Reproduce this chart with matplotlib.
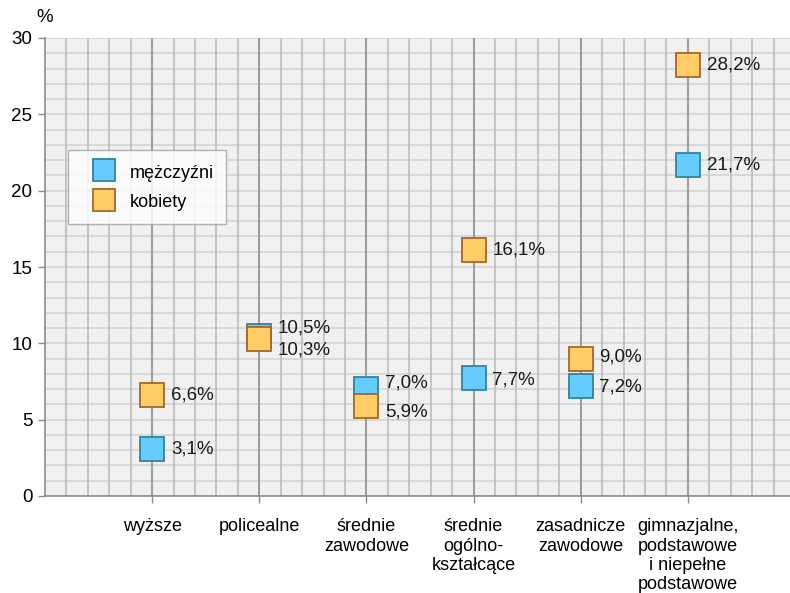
import matplotlib
matplotlib.use("Agg")
import matplotlib.pyplot as plt
import numpy as np

plt.rcParams['font.family'] = ['Liberation Sans', 'DejaVu Sans']

categories = ["wyższe", "policealne", "średnie\nzawodowe", "średnie\nogólno-\nkształcące",
              "zasadnicze\nzawodowe", "gimnazjalne,\npodstawowe\ni niepełne\npodstawowe"]
men = [3.1, 10.5, 7.0, 7.7, 7.2, 21.7]
women = [6.6, 10.3, 5.9, 16.1, 9.0, 28.2]
men_labels = ["3,1%", "10,5%", "7,0%", "7,7%", "7,2%", "21,7%"]
women_labels = ["6,6%", "10,3%", "5,9%", "16,1%", "9,0%", "28,2%"]

fig = plt.figure(figsize=(7.9, 5.93), dpi=100)
ax = fig.add_axes([45/790, 1-496/593, 750/790, 458/593])
ax.set_facecolor('#F0F0F0')
ax.set_xlim(0, 7)
ax.set_ylim(0, 30)

# grid
for y in range(1, 31):
    ax.axhline(y, color='#D4D4D4', lw=1.2, zorder=1)
for k in range(1, 35):
    x = k * 0.2
    if k % 5 == 0:
        ax.axvline(x, color='#8C8C8C', lw=1.2, zorder=1.5)
    else:
        ax.axvline(x, color='#BDBDBD', lw=1.2, zorder=1.2)

xs = np.arange(1, len(categories) + 1)
ax.plot(xs, men, linestyle='none', marker='s', markersize=17, markerfacecolor='#66CCFF',
        markeredgecolor='#31849B', markeredgewidth=1.3, zorder=3, label='mężczyźni')
ax.plot(xs, women, linestyle='none', marker='s', markersize=17, markerfacecolor='#FFCC66',
        markeredgecolor='#A5672A', markeredgewidth=1.3, zorder=4, label='kobiety')

men_dy = [0, 8, 6, -2, -1, 0]
women_dy = [0, -11, -6, 0, 2, 0]
for x, v, t, dy in zip(xs, men, men_labels, men_dy):
    ax.annotate(t, (x, v), xytext=(13.5, dy * 0.72), textcoords='offset points',
                ha='left', va='center', fontsize=13.5, color='#1A1A1A', zorder=5)
for x, v, t, dy in zip(xs, women, women_labels, women_dy):
    ax.annotate(t, (x, v), xytext=(13.5, dy * 0.72), textcoords='offset points',
                ha='left', va='center', fontsize=13.5, color='#1A1A1A', zorder=5)

ax.set_yticks(range(0, 31, 5))
ax.set_yticklabels([str(v) for v in range(0, 31, 5)], fontsize=13.5)
ax.set_xticks(xs)
ax.set_xticklabels(categories, fontsize=13, linespacing=1.18, va='top')
ax.tick_params(axis='y', length=5, color='#8C8C8C', width=1, pad=4)
ax.tick_params(axis='x', length=5, color='#8C8C8C', width=1, pad=11)
for s in ['top', 'right']:
    ax.spines[s].set_visible(False)
for s in ['left', 'bottom']:
    ax.spines[s].set_color('#8C8C8C')
    ax.spines[s].set_linewidth(1.2)

fig.text(45/790, 1-18/593, '%', ha='center', va='center', fontsize=13.5)

leg = ax.legend(loc='upper left', bbox_to_anchor=(23/750, 1-112/458), frameon=True,
                fancybox=False, fontsize=13, handlelength=2.6, handleheight=1.2,
                borderpad=0.7, labelspacing=0.55, handletextpad=0.1, borderaxespad=0)
leg.get_frame().set_edgecolor('#A0A0A0')
leg.get_frame().set_linewidth(1)
for h in leg.legend_handles:
    h.set_markersize(16)
leg.set_zorder(6)

fig.savefig('out.png', dpi=100)
